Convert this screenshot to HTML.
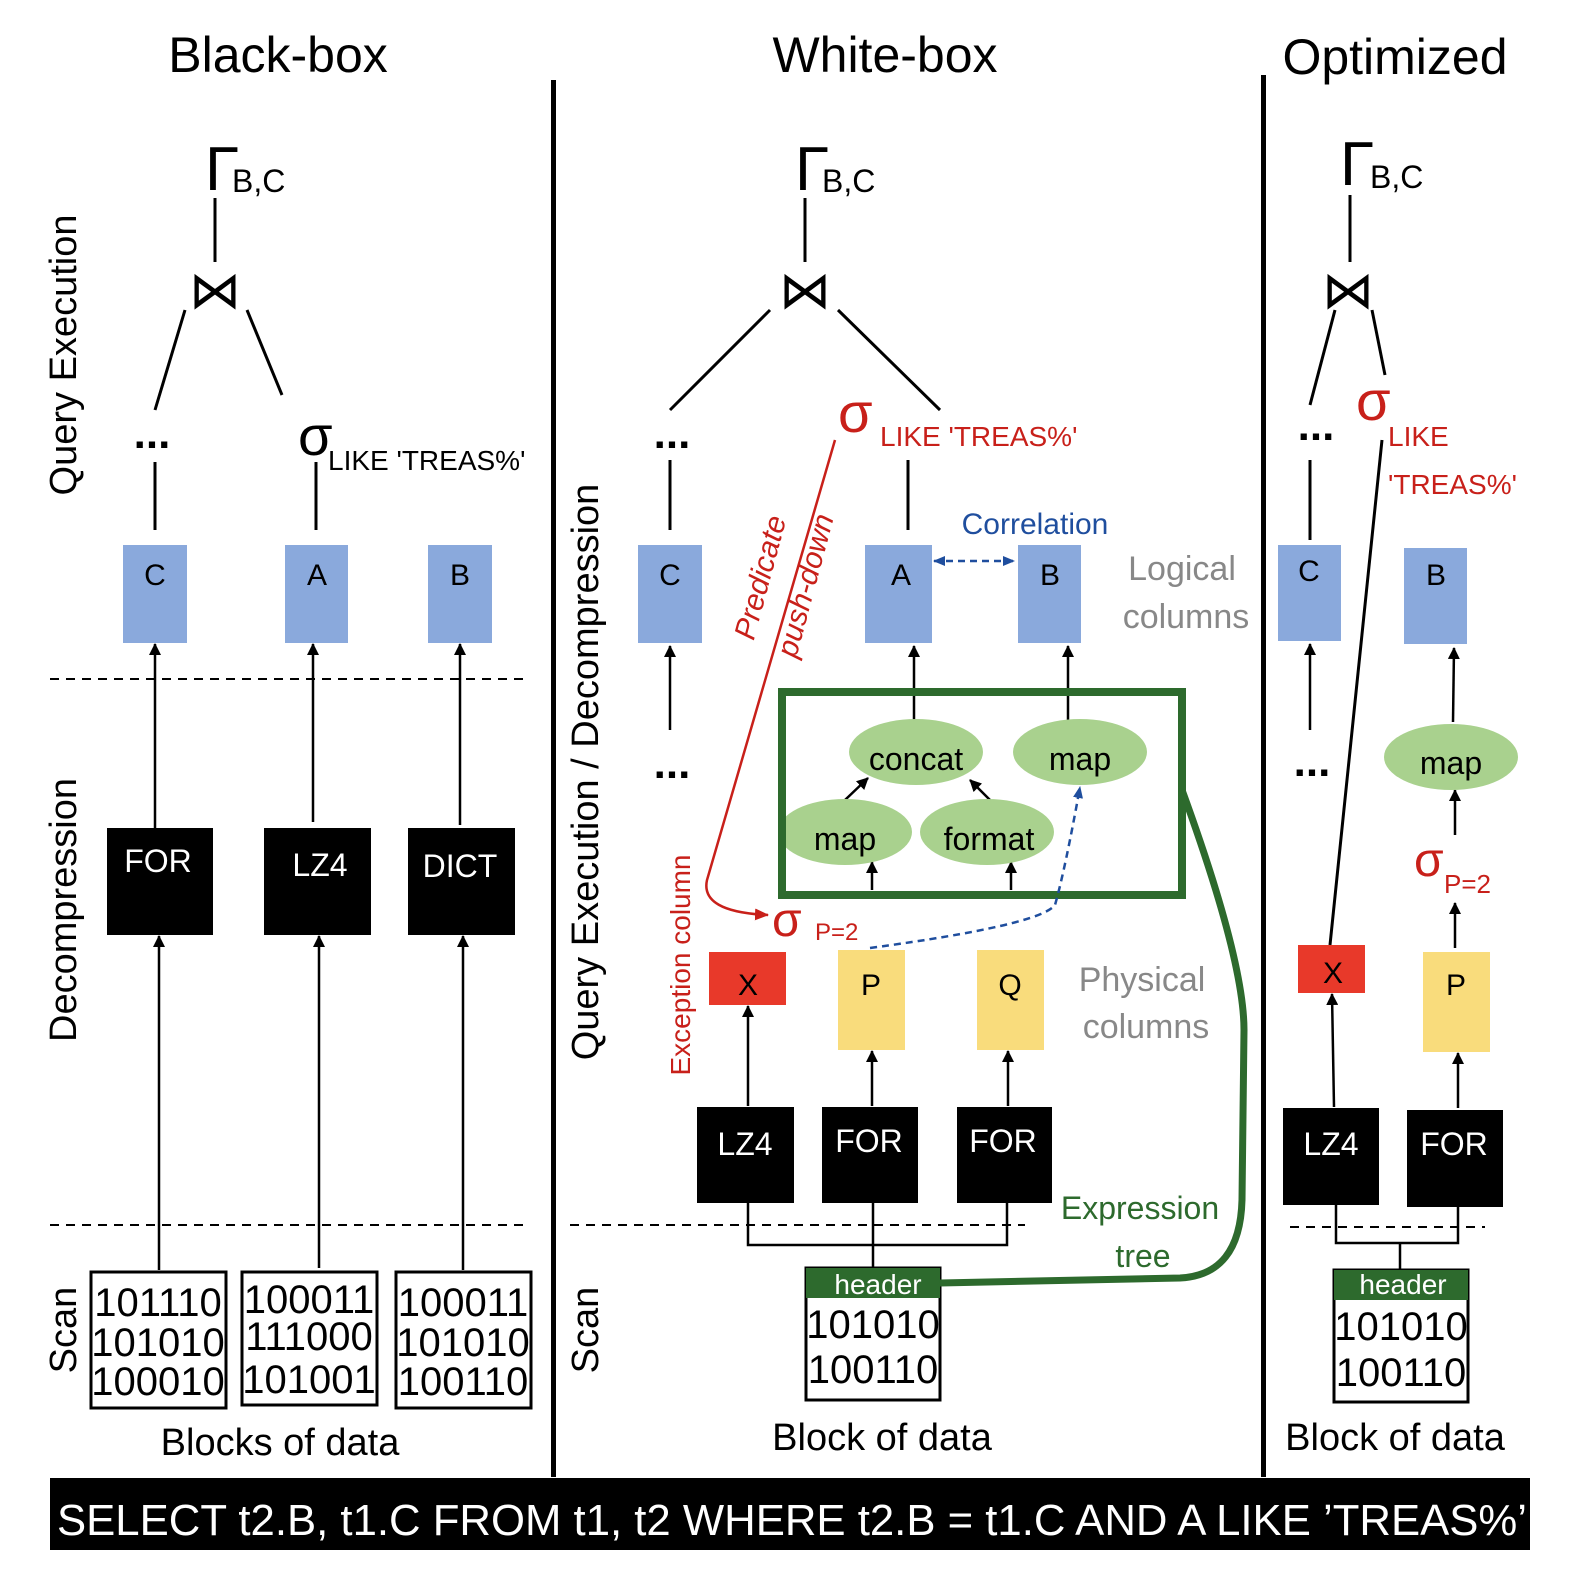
<!DOCTYPE html>
<html><head><meta charset="utf-8"><style>
html,body{margin:0;padding:0;background:#fff}
svg{display:block}
text{font-family:"Liberation Sans",sans-serif}
</style></head><body>
<svg width="1576" height="1578" viewBox="0 0 1576 1578" xmlns="http://www.w3.org/2000/svg">
<defs>
<marker id="ab" markerWidth="12" markerHeight="12" refX="11" refY="6" orient="auto" markerUnits="userSpaceOnUse"><path d="M0,0 L12,6 L0,12 Z" fill="#000"/></marker>
<marker id="ar" markerWidth="14" markerHeight="12" refX="13" refY="6" orient="auto" markerUnits="userSpaceOnUse"><path d="M0,0 L14,6 L0,12 Z" fill="#c8201a"/></marker>
<marker id="abl" markerWidth="12" markerHeight="10" refX="11" refY="5" orient="auto-start-reverse" markerUnits="userSpaceOnUse"><path d="M0,0 L12,5 L0,10 Z" fill="#1f4e9e"/></marker>
</defs>
<g font-size="50" text-anchor="middle">
<text x="278" y="72">Black-box</text>
<text x="885" y="72">White-box</text>
<text x="1395" y="74">Optimized</text>
</g>
<rect x="551" y="80" width="5" height="1397" fill="#000"/>
<rect x="1261" y="75" width="5" height="1402" fill="#000"/>
<rect x="50" y="1478" width="1480" height="72" fill="#000"/>
<text x="57" y="1535" font-size="44" fill="#fff" textLength="1470" lengthAdjust="spacingAndGlyphs">SELECT t2.B, t1.C FROM t1, t2 WHERE t2.B = t1.C AND A LIKE ’TREAS%’</text>

<g font-size="38" text-anchor="middle">
<text transform="translate(76,355) rotate(-90)">Query Execution</text>
<text transform="translate(76,910) rotate(-90)">Decompression</text>
<text transform="translate(76,1330) rotate(-90)">Scan</text>
<text transform="translate(598,772) rotate(-90)">Query Execution / Decompression</text>
<text transform="translate(598,1330) rotate(-90)">Scan</text>
</g>

<g stroke="#000" stroke-width="3" fill="none">
<line x1="215" y1="198" x2="215" y2="262"/>
<line x1="185" y1="310" x2="155" y2="410"/>
<line x1="247" y1="310" x2="282" y2="395"/>
<line x1="155" y1="462" x2="155" y2="530"/>
<line x1="316" y1="462" x2="316" y2="530"/>
<line x1="805" y1="198" x2="805" y2="262"/>
<line x1="770" y1="310" x2="670" y2="410"/>
<line x1="838" y1="310" x2="940" y2="410"/>
<line x1="670" y1="460" x2="670" y2="530"/>
<line x1="908" y1="460" x2="908" y2="530"/>
<line x1="1350" y1="195" x2="1350" y2="262"/>
<line x1="1335" y1="310" x2="1310" y2="405"/>
<line x1="1372" y1="310" x2="1385" y2="375"/>
<line x1="1310" y1="460" x2="1310" y2="540"/>
</g>
<g stroke="#000" stroke-width="2.5" fill="none" marker-end="url(#ab)">
<line x1="155" y1="828" x2="155" y2="644"/>
<line x1="313" y1="822" x2="313" y2="644"/>
<line x1="460" y1="825" x2="460" y2="644"/>
<line x1="159" y1="1270" x2="159" y2="936"/>
<line x1="319" y1="1268" x2="319" y2="936"/>
<line x1="463" y1="1270" x2="463" y2="936"/>
<line x1="670" y1="730" x2="670" y2="646"/>
<line x1="914" y1="720" x2="914" y2="646"/>
<line x1="1068" y1="720" x2="1068" y2="646"/>
<line x1="845" y1="800" x2="868" y2="778"/>
<line x1="990" y1="800" x2="970" y2="780"/>
<line x1="872" y1="890" x2="872" y2="862"/>
<line x1="1011" y1="890" x2="1011" y2="862"/>
<line x1="748" y1="1106" x2="748" y2="1006"/>
<line x1="872" y1="1106" x2="872" y2="1051"/>
<line x1="1008" y1="1106" x2="1008" y2="1051"/>
<line x1="1310" y1="730" x2="1310" y2="644"/>
<line x1="1453" y1="722" x2="1454" y2="648"/>
<line x1="1455" y1="835" x2="1455" y2="790"/>
<line x1="1455" y1="948" x2="1455" y2="903"/>
<line x1="1334" y1="1107" x2="1332" y2="994"/>
<line x1="1458" y1="1108" x2="1458" y2="1053"/>
</g>
<line x1="1382" y1="440" x2="1330" y2="945" stroke="#000" stroke-width="3"/>

<g stroke="#000" stroke-width="2" stroke-dasharray="9,7">
<line x1="50" y1="679" x2="525" y2="679"/>
<line x1="50" y1="1225" x2="525" y2="1225"/>
<line x1="570" y1="1225" x2="1025" y2="1225"/>
<line x1="1290" y1="1227" x2="1485" y2="1227"/>
</g>

<g font-size="62">
<text x="205" y="190">Γ</text><text x="795" y="190">Γ</text><text x="1340" y="185">Γ</text>
</g>
<g font-size="32"><text x="232" y="192">B,C</text><text x="822" y="192">B,C</text><text x="1370" y="188">B,C</text></g>
<g font-size="52" text-anchor="middle"><text x="215" y="308">⋈</text><text x="805" y="308">⋈</text><text x="1348" y="308">⋈</text></g>
<g font-size="44" font-weight="bold" text-anchor="middle"><text x="152" y="448">...</text><text x="672" y="448">...</text><text x="672" y="778">...</text><text x="1316" y="440">...</text><text x="1312" y="776">...</text></g>
<text x="298" y="455" font-size="56">σ</text><text x="328" y="470" font-size="28">LIKE 'TREAS%'</text>
<g fill="#c8201a"><text x="838" y="432" font-size="56">σ</text><text x="880" y="446" font-size="28">LIKE 'TREAS%'</text>
<text x="1356" y="420" font-size="56">σ</text><text x="1388" y="446" font-size="28">LIKE</text><text x="1388" y="494" font-size="28">'TREAS%'</text>
<text x="772" y="936" font-size="48">σ</text><text x="815" y="940" font-size="24">P=2</text>
<text x="1414" y="876" font-size="48">σ</text><text x="1444" y="893" font-size="26">P=2</text>
<text transform="translate(690,965) rotate(-90)" font-size="28" text-anchor="middle">Exception column</text>
<text transform="translate(770,580) rotate(-75)" font-size="30" text-anchor="middle" font-style="italic">Predicate</text>
<text transform="translate(815,588) rotate(-75)" font-size="30" text-anchor="middle" font-style="italic">push-down</text>
</g>
<path d="M835,440 L707,880 Q700,912 768,915" stroke="#c8201a" stroke-width="2.5" fill="none" marker-end="url(#ar)"/>

<g fill="#8aa9dc">
<rect x="123" y="545" width="64" height="98"/><rect x="285" y="545" width="63" height="98"/><rect x="428" y="545" width="64" height="98"/>
<rect x="638" y="545" width="64" height="98"/><rect x="865" y="545" width="67" height="98"/><rect x="1018" y="545" width="63" height="98"/>
<rect x="1278" y="545" width="63" height="96"/><rect x="1404" y="548" width="63" height="96"/>
</g>
<g font-size="30" text-anchor="middle">
<text x="155" y="585">C</text><text x="317" y="585">A</text><text x="460" y="585">B</text>
<text x="670" y="585">C</text><text x="901" y="585">A</text><text x="1050" y="585">B</text>
<text x="1309" y="581">C</text><text x="1436" y="585">B</text>
</g>
<text x="1035" y="534" font-size="30" fill="#1f4e9e" text-anchor="middle">Correlation</text>
<line x1="934" y1="561" x2="1014" y2="561" stroke="#1f4e9e" stroke-width="2.5" stroke-dasharray="7,5" marker-start="url(#abl)" marker-end="url(#abl)"/>
<g fill="#888" font-size="34" text-anchor="middle">
<text x="1182" y="580">Logical</text><text x="1186" y="628">columns</text>
<text x="1142" y="991">Physical</text><text x="1146" y="1038">columns</text>
</g>

<g fill="#a9d18e">
<ellipse cx="916" cy="752" rx="67" ry="33"/><ellipse cx="1080" cy="752" rx="67" ry="33"/>
<ellipse cx="845" cy="832" rx="67" ry="33"/><ellipse cx="987" cy="832" rx="67" ry="33"/>
<ellipse cx="1451" cy="757" rx="67" ry="33"/>
</g>
<rect x="782" y="692" width="400" height="203" fill="none" stroke="#2d6a2d" stroke-width="8"/>
<g font-size="32" text-anchor="middle">
<text x="916" y="770">concat</text><text x="1080" y="770">map</text><text x="845" y="850">map</text><text x="989" y="850">format</text><text x="1451" y="774">map</text>
</g>
<path d="M870,948 Q1040,925 1055,905 Q1065,870 1080,787" stroke="#1f4e9e" stroke-width="2.5" stroke-dasharray="7,5" fill="none" marker-end="url(#abl)"/>

<rect x="709" y="952" width="77" height="53" fill="#e8392a"/>
<rect x="1298" y="945" width="67" height="48" fill="#e8392a"/>
<g fill="#f9dc7c"><rect x="838" y="950" width="67" height="100"/><rect x="977" y="950" width="67" height="100"/><rect x="1423" y="952" width="67" height="100"/></g>
<g font-size="30" text-anchor="middle">
<text x="748" y="995">X</text><text x="871" y="995">P</text><text x="1010" y="995">Q</text><text x="1333" y="983">X</text><text x="1456" y="995">P</text>
</g>

<g fill="#000">
<rect x="107" y="828" width="106" height="107"/><rect x="264" y="828" width="107" height="107"/><rect x="408" y="828" width="107" height="107"/>
<rect x="697" y="1107" width="97" height="96"/><rect x="822" y="1107" width="96" height="96"/><rect x="957" y="1107" width="95" height="96"/>
<rect x="1283" y="1108" width="96" height="97"/><rect x="1407" y="1110" width="96" height="97"/>
</g>
<g font-size="32" fill="#fff" text-anchor="middle">
<text x="158" y="872">FOR</text><text x="320" y="876">LZ4</text><text x="460" y="877">DICT</text>
<text x="745" y="1155">LZ4</text><text x="869" y="1152">FOR</text><text x="1003" y="1152">FOR</text>
<text x="1331" y="1155">LZ4</text><text x="1454" y="1155">FOR</text>
</g>
<g stroke="#000" stroke-width="2.5" fill="none">
<polyline points="748,1203 748,1245 1007,1245 1007,1203"/>
<line x1="873" y1="1203" x2="873" y2="1268"/>
<polyline points="1336,1205 1336,1243 1458,1243 1458,1207"/>
<line x1="1400" y1="1243" x2="1400" y2="1270"/>
</g>

<g fill="none" stroke="#000" stroke-width="3">
<rect x="91" y="1272" width="135" height="136"/><rect x="242" y="1272" width="135" height="133"/><rect x="396" y="1272" width="135" height="136"/>
<rect x="806" y="1268" width="134" height="132"/><rect x="1334" y="1270" width="134" height="132"/>
</g>
<g font-size="40" text-anchor="middle">
<text x="158" y="1316">101110</text><text x="158" y="1356">101010</text><text x="158" y="1395">100010</text>
<text x="309" y="1313">100011</text><text x="309" y="1350">111000</text><text x="309" y="1393">101001</text>
<text x="463" y="1316">100011</text><text x="463" y="1356">101010</text><text x="463" y="1395">100110</text>
<text x="873" y="1338">101010</text><text x="873" y="1383">100110</text>
<text x="1401" y="1340">101010</text><text x="1401" y="1386">100110</text>
</g>
<rect x="806" y="1268" width="134" height="30" fill="#2d6a2d"/>
<rect x="1334" y="1270" width="134" height="30" fill="#2d6a2d"/>
<g font-size="28" fill="#fff" text-anchor="middle"><text x="878" y="1294">header</text><text x="1403" y="1294">header</text></g>
<g font-size="38" text-anchor="middle">
<text x="280" y="1455">Blocks of data</text><text x="882" y="1450">Block of data</text><text x="1395" y="1450">Block of data</text>
</g>
<g fill="#2d6a2d" font-size="32" text-anchor="middle"><text x="1140" y="1219">Expression</text><text x="1143" y="1267">tree</text></g>
<path d="M940,1283 L1180,1278 Q1240,1275 1242,1200 L1244,1030 Q1244,960 1182,790" stroke="#2d6a2d" stroke-width="7" fill="none"/>
</svg>
</body></html>
